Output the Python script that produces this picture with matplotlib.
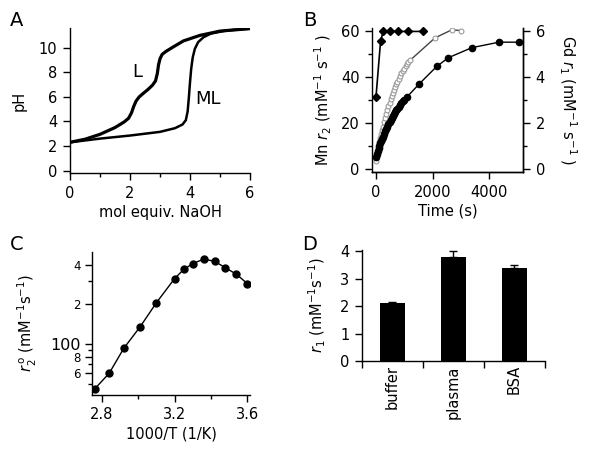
import numpy as np
import matplotlib
matplotlib.use("Agg")
import matplotlib.pyplot as plt

# ---- panel A: titration curves (mol equiv NaOH vs pH)
L_x = [0, 0.5, 1.0, 1.5, 1.8, 1.95, 2.05, 2.12, 2.2, 2.3, 2.45, 2.6, 2.75, 2.85, 2.91, 2.95,
       3.0, 3.07, 3.2, 3.4, 3.78, 4.33, 5.0, 6.0]
L_y = [2.3, 2.55, 2.95, 3.5, 3.95, 4.25, 4.7, 5.2, 5.65, 5.98, 6.3, 6.6, 6.95, 7.3, 7.9, 8.6,
       9.1, 9.45, 9.7, 10.0, 10.55, 11.0, 11.35, 11.55]
ML_x = [0, 1.0, 2.0, 3.0, 3.5, 3.75, 3.86, 3.92, 3.96, 4.0, 4.04, 4.09, 4.16, 4.27, 4.45, 4.7, 5.22, 6.0]
ML_y = [2.3, 2.6, 2.85, 3.15, 3.45, 3.75, 4.1, 4.8, 5.9, 7.2, 8.3, 9.2, 9.9, 10.45, 10.85, 11.15, 11.4, 11.55]

# ---- panel B: relaxivity vs time
dia_t = [0, 165, 260, 500, 790, 1145, 1655]
dia_r = [3.12, 5.6, 6.0, 6.0, 6.0, 6.0, 6.0]          # right axis
filled_t = [0, 30, 60, 90, 120, 150, 180, 210, 240, 280, 320, 360, 400, 440, 480, 520,
            560, 600, 640, 680, 720, 760, 800, 850, 900, 950, 1000, 1085,
            1535, 2150, 2560, 3390, 4350, 5060]
filled_r = [5.0, 6.5, 7.6, 8.8, 9.9, 11.0, 12.0, 13.0, 14.0, 15.2, 16.4, 17.5, 18.4, 19.4, 20.3, 21.2,
            22.1, 23.0, 23.9, 24.7, 25.5, 26.2, 27.0, 27.9, 28.8, 29.5, 30.2, 31.2,
            37.1, 44.7, 48.5, 52.9, 55.3, 55.3]
open_t = [0, 30, 60, 90, 120, 150, 180, 210, 240, 280, 320, 360, 400, 440, 480, 520, 560,
          600, 640, 680, 720, 760, 800, 850, 900, 950, 1000, 1050, 1100, 1150, 1200,
          2090, 2680, 3000]
open_r = [3.2, 5.5, 7.6, 9.6, 11.6, 13.4, 15.1, 16.8, 18.3, 20.3, 22.1, 23.9, 25.6, 27.2, 28.8, 30.3, 31.7,
          33.1, 34.4, 35.7, 36.9, 38.0, 39.1, 40.4, 41.6, 42.7, 43.7, 44.7, 45.6, 46.5, 47.3,
          57.2, 60.7, 60.4]

# ---- panel C: r2 vs 1000/T
invT = [2.76, 2.84, 2.92, 3.01, 3.10, 3.20, 3.25, 3.30, 3.36, 3.42, 3.48, 3.54, 3.60]
r2o = [45.6, 60, 92.7, 135, 206, 314, 368, 408, 441, 425, 379, 339, 288]
c_ticks = [60, 80, 100, 200, 400]
c_ticklabels = ["6", "8", "100", "2", "4"]

# ---- panel D: r1 in media
media = ["buffer", "plasma", "BSA"]
r1 = [2.1, 3.8, 3.4]
r1_err = [0.05, 0.2, 0.1]

plt.rcParams["font.family"] = "DejaVu Sans"
plt.rcParams["font.size"] = 10
plt.rcParams["axes.linewidth"] = 1.0
plt.rcParams["mathtext.default"] = "regular"

fig = plt.figure(figsize=(6, 4.63), dpi=100)

def clean(ax, right=False):
    ax.spines["top"].set_visible(False)
    if not right:
        ax.spines["right"].set_visible(False)
    ax.tick_params(direction="out", length=5, width=1, labelsize=10.5, pad=4)
    ax.tick_params(which="minor", direction="out", length=3, width=1)

# A
axA = fig.add_axes([0.1167, 0.6263, 0.30, 0.3132])
axA.plot(L_x, L_y, color="black", lw=2.3, solid_joinstyle="round")
axA.plot(ML_x, ML_y, color="black", lw=1.8, solid_joinstyle="round")
axA.set_xlim(0, 6)
axA.set_ylim(-0.2, 11.6)
axA.set_xticks([0, 2, 4, 6])
axA.set_xticks([1, 3, 5], minor=True)
axA.set_yticks([0, 2, 4, 6, 8, 10])
axA.set_xlabel("mol equiv. NaOH", fontsize=10.5, labelpad=3)
axA.set_ylabel("pH", fontsize=10.5, labelpad=9)
axA.text(2.23, 8.05, "L", fontsize=13, ha="center", va="center")
axA.text(4.6, 5.8, "ML", fontsize=13, ha="center", va="center")
clean(axA)

# B
axB = fig.add_axes([0.62, 0.6285, 0.2517, 0.311])
axB2 = axB.twinx()
axB.plot(filled_t, filled_r, color="black", lw=1, marker="o", ms=4.5, zorder=3)
axB.plot(open_t, open_r, color="#444444", lw=1, marker="o", ms=3.5, mfc="white",
         mec="#999999", mew=0.8, zorder=2)
axB2.plot(dia_t, dia_r, color="black", lw=1.2, marker="D", ms=4.5, clip_on=False)
axB.set_xlim(-140, 5200)
axB.set_ylim(-1.5, 61.5)
axB2.set_ylim(-0.15, 6.15)
axB.set_xticks([0, 2000, 4000])
axB.set_yticks([0, 20, 40, 60])
axB.set_yticks([10, 30, 50], minor=True)
axB2.set_yticks([0, 2, 4, 6])
axB2.set_yticks([1, 3, 5], minor=True)
axB.set_xlabel("Time (s)", fontsize=10.5, labelpad=3)
axB.set_ylabel("Mn $\\mathit{r}_2$ (mM$^{-1}$ s$^{-1}$ )", fontsize=10.5, labelpad=5)
axB2.set_ylabel("Gd $\\mathit{r}_1$ (mM$^{-1}$ s$^{-1}$ )", fontsize=10.5, rotation=270,
                labelpad=24)
clean(axB, right=True)
clean(axB2, right=True)
axB2.spines["left"].set_visible(False)

# C
axC = fig.add_axes([0.1533, 0.1469, 0.2633, 0.3089])
axC.plot(invT, r2o, color="black", lw=1, marker="o", ms=5)
axC.set_yscale("log")
axC.set_xlim(2.745, 3.615)
axC.set_ylim(41, 500)
axC.set_xticks([2.8, 3.2, 3.6])
axC.set_xticks([3.0, 3.4], minor=True)
axC.set_yticks(c_ticks)
axC.set_yticks([50, 70, 90, 300], minor=True)
axC.yaxis.set_minor_formatter(matplotlib.ticker.NullFormatter())
axC.set_yticklabels(c_ticklabels)
axC.set_xlabel("1000/T (1/K)", fontsize=10.5, labelpad=3)
axC.set_ylabel("$\\mathit{r}_2^{\\,o}$ (mM$^{-1}$s$^{-1}$)", fontsize=10.5, labelpad=8)
clean(axC)
axC.tick_params(axis="y", labelsize=8.5, pad=3)
for lab in axC.get_yticklabels():
    lab.set_fontsize(11.5 if lab.get_text() == "100" else 8.5)

# D
axD = fig.add_axes([0.6033, 0.2203, 0.305, 0.2397])
pos = np.arange(len(media)) + 0.5
axD.bar(pos, r1, width=0.4, color="black")
axD.errorbar(pos, r1, yerr=[np.zeros(len(r1)), r1_err], fmt="none", ecolor="black",
             elinewidth=1, capsize=3, capthick=1)
axD.set_xlim(0, 3)
axD.set_ylim(0, 4.05)
axD.set_yticks([0, 1, 2, 3, 4])
axD.set_xticks([0, 1, 2, 3])
axD.set_xticklabels([])
axD.set_xticks(pos, minor=True)
axD.set_xticklabels(media, minor=True, rotation=90)
axD.set_ylabel("$\\mathit{r}_1$ (mM$^{-1}$s$^{-1}$)", fontsize=10.5, labelpad=9)
clean(axD)
axD.tick_params(axis="x", which="minor", length=0, labelsize=10.5, pad=3)

for letter, (x, y) in zip("ABCD", [(17, 20), (310, 20), (17, 245), (310, 245)]):
    fig.text(x / 600, 1 - y / 463, letter, fontsize=14, ha="center", va="center")

fig.savefig("out.png", dpi=100)
